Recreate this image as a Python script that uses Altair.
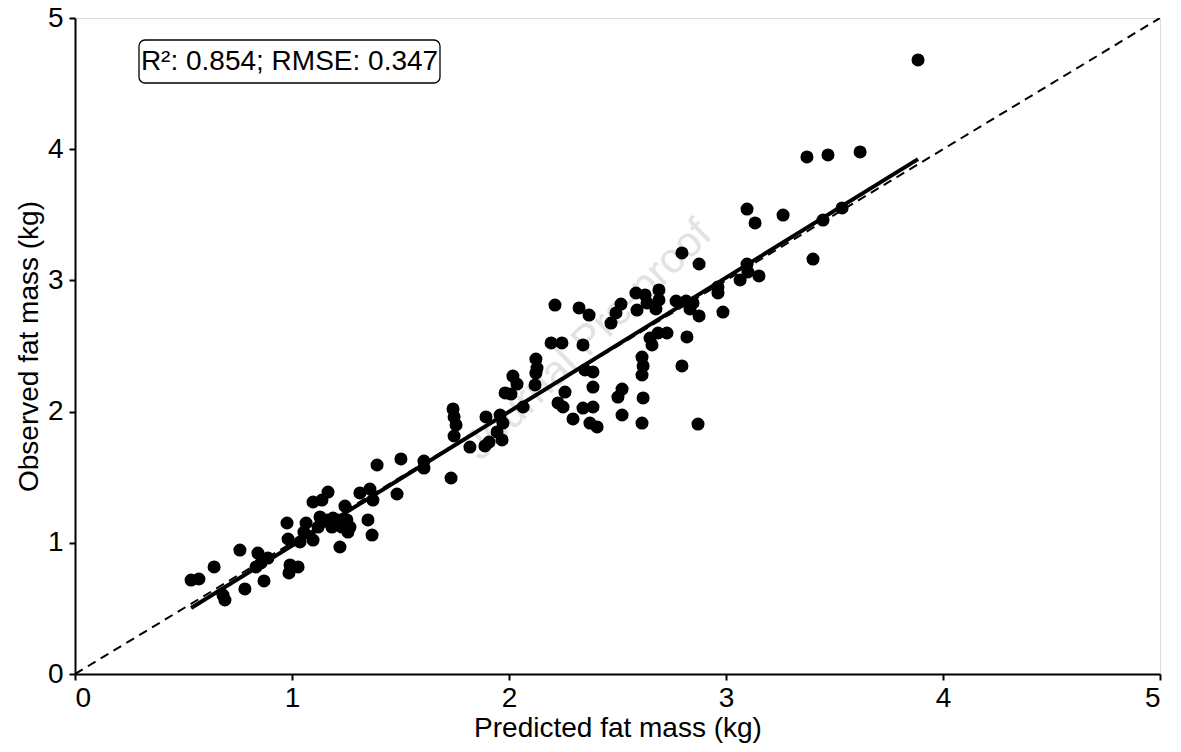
import altair as alt
import pandas as pd

# Predicted fat mass (kg) - x values
predicted = [
    0.535, 0.571, 0.641, 0.682, 0.691, 0.760, 0.783, 0.843, 0.871, 0.834,
    0.857, 0.889, 0.977, 0.982, 0.991, 0.986, 1.028, 1.065, 1.055, 1.037,
    1.097, 1.120, 1.129, 1.097, 1.138, 1.166, 1.161, 1.184, 1.207, 1.189,
    1.221, 1.244, 1.253, 1.267, 1.258, 1.230, 1.313, 1.359, 1.373, 1.350,
    1.369, 1.392, 1.484, 1.502, 1.608, 1.608, 1.733, 1.742, 1.747, 1.756,
    1.747, 1.820, 1.889, 1.908, 1.894, 1.959, 1.972, 1.945, 1.968, 1.982,
    2.009, 2.018, 2.037, 2.065, 2.120, 2.124, 2.129, 2.124, 2.194, 2.244,
    2.212, 2.226, 2.249, 2.258, 2.295, 2.323, 2.369, 2.341, 2.350, 2.387,
    2.387, 2.341, 2.387, 2.373, 2.406, 2.470, 2.493, 2.516, 2.521, 2.502,
    2.521, 2.585, 2.627, 2.590, 2.636, 2.613, 2.618, 2.613, 2.618, 2.613,
    2.650, 2.687, 2.728, 2.659, 2.691, 2.691, 2.677, 2.770, 2.816, 2.848,
    2.834, 2.820, 2.797, 2.797, 2.876, 2.876, 2.871, 2.963, 2.963, 2.986,
    3.065, 3.097, 3.134, 3.263, 3.097, 3.101, 3.152, 3.373, 3.470, 3.618,
    3.447, 3.535, 3.401, 3.885,
]

# Observed fat mass (kg) - y values
observed = [
    0.716, 0.724, 0.816, 0.602, 0.564, 0.945, 0.648, 0.922, 0.709, 0.816,
    0.846, 0.884, 1.151, 1.029, 0.831, 0.770, 0.816, 1.151, 1.082, 1.006,
    1.021, 1.120, 1.197, 1.311, 1.326, 1.387, 1.174, 1.120, 1.151, 1.189,
    0.968, 1.280, 1.174, 1.120, 1.082, 1.120, 1.380, 1.410, 1.326, 1.174,
    1.059, 1.593, 1.372, 1.639, 1.623, 1.570, 1.494, 2.020, 1.959, 1.898,
    1.814, 1.730, 1.738, 1.768, 1.959, 1.974, 1.913, 1.845, 1.784, 2.142,
    2.134, 2.271, 2.210, 2.035, 2.203, 2.401, 2.332, 2.294, 2.523, 2.523,
    2.812, 2.066, 2.035, 2.149, 1.944, 2.790, 2.736, 2.508, 2.317, 2.302,
    2.187, 2.027, 2.035, 1.913, 1.883, 2.675, 2.752, 2.820, 2.172, 2.111,
    1.974, 2.904, 2.889, 2.774, 2.828, 2.416, 2.348, 2.279, 2.104, 1.913,
    2.561, 2.599, 2.599, 2.508, 2.927, 2.851, 2.782, 2.843, 2.843, 2.828,
    2.782, 2.569, 2.348, 3.209, 3.125, 2.729, 1.905, 2.950, 2.904, 2.759,
    3.003, 3.544, 3.438, 3.498, 3.125, 3.064, 3.034, 3.941, 3.956, 3.979,
    3.460, 3.552, 3.163, 4.680,
]

identity = [0, 5]
ticks = [0, 1, 2, 3, 4, 5]
stats_label = "R\u00b2: 0.854; RMSE: 0.347"
watermark = "Journal Pre-proof"

FONT = "Liberation Sans"
FS = 28

pts = pd.DataFrame({"pred": predicted, "obs": observed})
ident = pd.DataFrame({"pred": identity, "obs": identity})

xscale = alt.Scale(domain=[0, 5], nice=False, zero=False)
yscale = alt.Scale(domain=[0, 5], nice=False, zero=False)

common = dict(grid=False, tickSize=6, tickWidth=2, domainWidth=2,
              domainColor="black", tickColor="black", labelColor="black",
              labelFontSize=FS, titleFontSize=FS, labelFont=FONT,
              titleFont=FONT, titleFontWeight="normal", titleColor="black",
              format="d", values=ticks)
xaxis = alt.Axis(title="Predicted fat mass (kg)", labelPadding=4,
                 titlePadding=2, **common)
yaxis = alt.Axis(title="Observed fat mass (kg)", labelPadding=6,
                 titlePadding=4, **common)

one = alt.Data(values=[{}])

wm = alt.Chart(one).mark_text(
    text=watermark, angle=316, fontSize=42, font=FONT, color="#e2e2e2",
    align="center", baseline="middle"
).encode(x=alt.value(513), y=alt.value(322))

ident_line = alt.Chart(ident).mark_line(
    color="black", strokeWidth=2, strokeDash=[9, 6], clip=True
).encode(
    x=alt.X("pred:Q", scale=xscale, axis=xaxis),
    y=alt.Y("obs:Q", scale=yscale, axis=yaxis),
)

reg_line = alt.Chart(pts).transform_regression(
    "pred", "obs"
).mark_line(color="black", strokeWidth=4).encode(
    x=alt.X("pred:Q", scale=xscale),
    y=alt.Y("obs:Q", scale=yscale),
)

points = alt.Chart(pts).mark_circle(
    color="black", opacity=1, size=170
).encode(
    x=alt.X("pred:Q", scale=xscale),
    y=alt.Y("obs:Q", scale=yscale),
)

box = alt.Chart(one).mark_rect(
    fill="white", stroke="black", strokeWidth=1.3, cornerRadius=6
).encode(x=alt.value(64), x2=alt.value(365), y=alt.value(22), y2=alt.value(65))

box_text = alt.Chart(one).mark_text(
    text=stats_label, fontSize=FS, font=FONT, color="black",
    align="center", baseline="middle"
).encode(x=alt.value(214.5), y=alt.value(44))

chart = alt.layer(wm, ident_line, reg_line, points, box, box_text).properties(
    width=1085, height=656,
    autosize=alt.AutoSizeParams(type="none"),
    padding={"left": 67, "top": 10, "right": 13, "bottom": 70},
).configure_view(stroke=None).configure(background="white")

chart.save("out.html", embed_options={"renderer": "svg", "actions": False})
